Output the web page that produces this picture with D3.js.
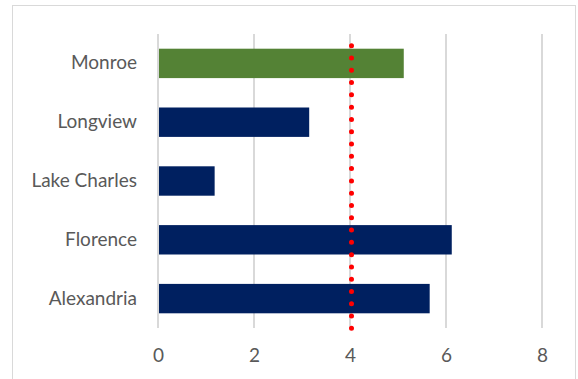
<!DOCTYPE html>
<html>
<head>
<meta charset="utf-8">
<script src="https://cdn.jsdelivr.net/npm/d3@7"></script>
<style>
  html, body { margin: 0; padding: 0; background: #fff; }
  svg { display: block; }
</style>
</head>
<body>
<svg id="chart" width="578" height="379"></svg>
<script>
// Cities and their values (top to bottom)
const categories = ["Monroe", "Longview", "Lake Charles", "Florence", "Alexandria"];
const values = [5.12, 3.15, 1.18, 6.12, 5.66];
const barColors = ["#548235", "#002060", "#002060", "#002060", "#002060"];
const xTicks = [0, 2, 4, 6, 8];
const targetValue = 4;

const svg = d3.select("#chart");
const font = "Lato, 'Open Sans', sans-serif";

// Chart frame
svg.append("rect")
  .attr("x", 12.5).attr("y", 5.5)
  .attr("width", 563).attr("height", 390)
  .attr("fill", "#fff").attr("stroke", "#d9d9d9").attr("stroke-width", 1);

const x = d3.scaleLinear().domain([0, 8]).range([158, 542]);
const y = d3.scaleBand().domain(categories).range([34, 328]).paddingInner(0.5).paddingOuter(0.25);

// Vertical gridlines
svg.append("g").selectAll("line").data(xTicks).join("line")
  .attr("x1", d => x(d)).attr("x2", d => x(d))
  .attr("y1", 34).attr("y2", 328)
  .attr("stroke", "#d9d9d9").attr("stroke-width", 2);

// Bars
svg.append("g").selectAll("rect").data(categories).join("rect")
  .attr("x", x(0) + 1)
  .attr("y", d => y(d))
  .attr("width", (d, i) => x(values[i]) - x(0) - 1)
  .attr("height", y.bandwidth())
  .attr("fill", (d, i) => barColors[i]);

// Target marker: round-dotted red line
svg.append("line")
  .attr("x1", x(targetValue) + 1.5).attr("x2", x(targetValue) + 1.5)
  .attr("y1", 45.7).attr("y2", 330)
  .attr("stroke", "#ff0000")
  .attr("stroke-width", 5)
  .attr("stroke-linecap", "round")
  .attr("stroke-dasharray", "0 12.29");

// Category labels
const yAxis = d3.axisLeft(y).tickSize(0).tickPadding(21);
const gy = svg.append("g").attr("transform", `translate(${x(0)},0)`).call(yAxis);
gy.select(".domain").remove();
gy.selectAll("text")
  .attr("fill", "#595959")
  .style("font-family", font)
  .style("font-size", "19px");

// Value axis labels
const xAxis = d3.axisBottom(x).tickValues(xTicks).tickSize(0).tickPadding(21).tickFormat(d3.format("d"));
const gx = svg.append("g").attr("transform", `translate(0,328)`).call(xAxis);
gx.select(".domain").remove();
gx.selectAll("text")
  .attr("fill", "#595959")
  .style("font-family", font)
  .style("font-size", "19px");
</script>
</body>
</html>
